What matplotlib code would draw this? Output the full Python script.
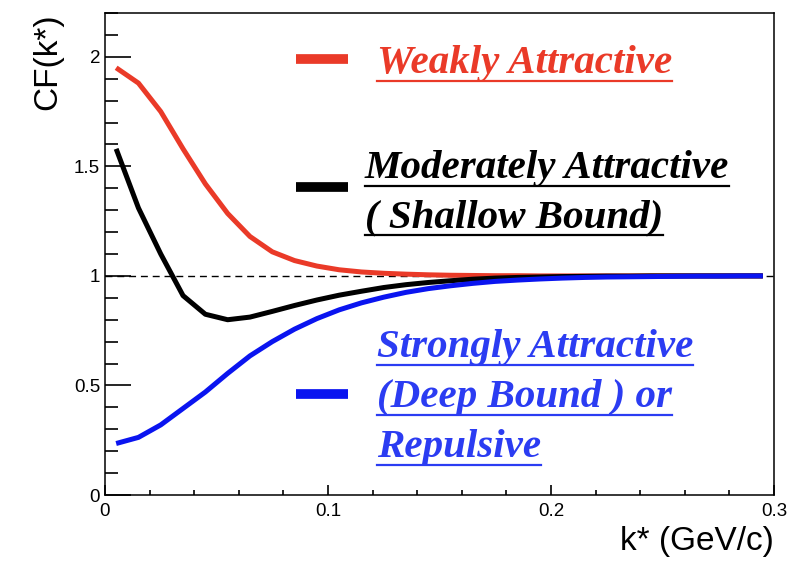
import matplotlib
matplotlib.use("Agg")
import matplotlib.pyplot as plt
import numpy as np
from matplotlib.ticker import MultipleLocator
from matplotlib.lines import Line2D

# k* bin centres (GeV/c)
kstar = [0.005, 0.015, 0.025, 0.035, 0.045, 0.055, 0.065, 0.075, 0.085, 0.095,
         0.105, 0.115, 0.125, 0.135, 0.145, 0.155, 0.165, 0.175, 0.185, 0.195,
         0.205, 0.215, 0.225, 0.235, 0.245, 0.255, 0.265, 0.275, 0.285, 0.295]

cf_weak = [1.95, 1.88, 1.75, 1.58, 1.42, 1.285, 1.18, 1.11, 1.07, 1.045,
           1.028, 1.018, 1.012, 1.008, 1.005, 1.003, 1.002, 1.001, 1.001, 1.0,
           1.0, 1.0, 1.0, 1.0, 1.0, 1.0, 1.0, 1.0, 1.0, 1.0]

cf_moderate = [1.58, 1.31, 1.10, 0.91, 0.825, 0.80, 0.812, 0.838, 0.865, 0.89,
               0.912, 0.93, 0.947, 0.96, 0.97, 0.978, 0.985, 0.99, 0.993, 0.995,
               0.997, 0.998, 0.999, 0.999, 1.0, 1.0, 1.0, 1.0, 1.0, 1.0]

cf_strong = [0.235, 0.263, 0.32, 0.395, 0.47, 0.555, 0.635, 0.70, 0.757, 0.805,
             0.845, 0.877, 0.903, 0.925, 0.942, 0.955, 0.966, 0.975, 0.981, 0.986,
             0.99, 0.993, 0.995, 0.996, 0.997, 0.998, 0.999, 0.999, 1.0, 1.0]

RED = "#ea3a28"
BLACK = "#000000"
BLUE = "#0a14f0"
BLUE_TXT = "#2b3cf2"

fig = plt.figure(figsize=(8.08, 5.63), dpi=100)
ax = fig.add_axes([105/808, 68/563, 669/808, 482/563])

ax.axhline(1.0, color="black", lw=1.0, ls=(0, (5, 3.5)), zorder=1)
ax.plot(kstar, cf_weak, color=RED, lw=3.6, solid_capstyle="butt",
        solid_joinstyle="round", zorder=2)
ax.plot(kstar, cf_moderate, color=BLACK, lw=3.6, solid_capstyle="butt",
        solid_joinstyle="round", zorder=3)
ax.plot(kstar, cf_strong, color=BLUE, lw=3.6, solid_capstyle="butt",
        solid_joinstyle="round", zorder=4)

ax.set_xlim(0, 0.3)
ax.set_ylim(0, 2.2)
ax.xaxis.set_minor_locator(MultipleLocator(0.02))
ax.yaxis.set_minor_locator(MultipleLocator(0.1))
ax.set_xticks([0, 0.1, 0.2, 0.3])
ax.set_xticklabels(["0", "0.1", "0.2", "0.3"])
ax.set_yticks([0, 0.5, 1.0, 1.5, 2.0])
ax.set_yticklabels(["0", "0.5", "1", "1.5", "2"])

ax.tick_params(axis="both", which="both", direction="in", top=False, right=False,
               width=1.2, colors="black")
ax.tick_params(axis="y", which="major", length=19, pad=3.5, labelsize=13.5)
ax.tick_params(axis="y", which="minor", length=9.5)
ax.tick_params(axis="x", which="major", length=7.5, pad=6, labelsize=13.5)
ax.tick_params(axis="x", which="minor", length=3.5)
for lab in ax.get_xticklabels() + ax.get_yticklabels():
    lab.set_fontfamily("Liberation Sans")
for s in ax.spines.values():
    s.set_linewidth(1.1)

ax.set_xlabel("k* (GeV/c)", loc="right", fontsize=24, fontfamily="Liberation Sans",
              labelpad=4)
ax.set_ylabel("CF(k*)", loc="top", fontsize=24, fontfamily="Liberation Sans",
              labelpad=8)

# legend: short thick segments + underlined serif text
def ax_xy(px, py):
    return (px - 105) / 669, (495 - py) / 482

legend_marks = [(59, RED), (187, BLACK), (394, BLUE)]
for py, col in legend_marks:
    x0, y0 = ax_xy(296, py)
    x1, _ = ax_xy(348, py)
    ax.add_line(Line2D([x0, x1], [y0, y0], transform=ax.transAxes, color=col,
                       lw=7, solid_capstyle="butt"))

legend_lines = [
    ("Weakly Attractive", 377, 73, RED),
    ("Moderately Attractive", 365, 178, BLACK),
    ("( Shallow Bound)", 365, 227, BLACK),
    ("Strongly Attractive", 377, 357, BLUE_TXT),
    ("(Deep Bound ) or", 377, 407, BLUE_TXT),
    ("Repulsive", 377, 457, BLUE_TXT),
]
texts = []
for txt, px, py, col in legend_lines:
    x, y = ax_xy(px, py)
    t = ax.text(x, y, txt, transform=ax.transAxes, ha="left", va="baseline",
                fontsize=29.5, fontfamily="Liberation Serif", fontweight="bold",
                fontstyle="italic", color=col)
    texts.append((t, py, col))

fig.canvas.draw()
r = fig.canvas.get_renderer()
for t, py, col in texts:
    bb = t.get_window_extent(r)
    yu = (563 - (py + 8)) / 563
    fig.add_artist(Line2D([bb.x0 / 808, bb.x1 / 808], [yu, yu],
                          transform=fig.transFigure, color=col, lw=1.6))

fig.savefig("out.png", dpi=100)
